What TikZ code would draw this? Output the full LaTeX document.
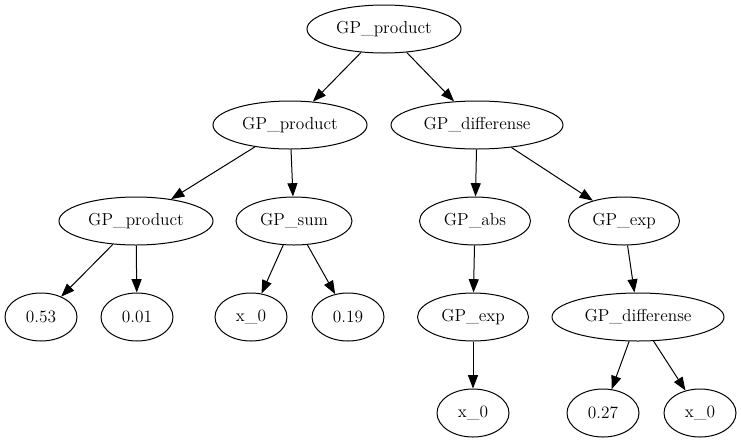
\documentclass[tikz,border=0pt]{standalone}
\usetikzlibrary{shapes.geometric,arrows.meta}
\begin{document}
\begin{tikzpicture}[x=0.75pt, y=-0.75pt]
 \tikzstyle{noeud}=[ellipse, draw, line width=0.75pt, inner sep=0pt, minimum height=36pt, minimum width=54pt, font=\fontsize{13}{15}\selectfont]
 \tikzstyle{fleche}=[-{Triangle[length=10pt, width=7.5pt]}, line width=0.75pt]
 \useasboundingbox (0,0) rectangle (741,443);
 %
 \node[noeud, minimum width=115.5pt] (R) at (384, 29) {GP\_product};
 %
 \node[noeud, minimum width=115.5pt] (G) at (290, 125) {GP\_product};
 \node[noeud, minimum width=129pt] (D) at (477, 125) {GP\_differense};
 %
 \node[noeud, minimum width=115.5pt] (GG) at (136, 221) {GP\_product};
 \node[noeud, minimum width=87pt] (GS) at (294, 221) {GP\_sum};
 \node[noeud, minimum width=83.25pt] (DA) at (475, 221) {GP\_abs};
 \node[noeud, minimum width=83.25pt] (DE) at (624, 221) {GP\_exp};
 %
 \node[noeud] (GG1) at (41, 317) {0.53};
 \node[noeud] (GG2) at (137, 317) {0.01};
 \node[noeud] (GS1) at (251, 317) {x\_0};
 \node[noeud] (GS2) at (348, 317) {0.19};
 \node[noeud, minimum width=83.25pt] (DAE) at (473, 317) {GP\_exp};
 \node[noeud, minimum width=129pt] (DED) at (638, 317) {GP\_differense};
 %
 \node[noeud] (DAE1) at (473, 413) {x\_0};
 \node[noeud] (DED1) at (603, 413) {0.27};
 \node[noeud] (DED2) at (700, 413) {x\_0};
 %%
 \draw[fleche] (R)--(G);
 \draw[fleche] (R)--(D);
 \draw[fleche] (G)--(GG);
 \draw[fleche] (G)--(GS);
 \draw[fleche] (D)--(DA);
 \draw[fleche] (D)--(DE);
 \draw[fleche] (GG)--(GG1);
 \draw[fleche] (GG)--(GG2);
 \draw[fleche] (GS)--(GS1);
 \draw[fleche] (GS)--(GS2);
 \draw[fleche] (DA)--(DAE);
 \draw[fleche] (DE)--(DED);
 \draw[fleche] (DAE)--(DAE1);
 \draw[fleche] (DED)--(DED1);
 \draw[fleche] (DED)--(DED2);
\end{tikzpicture}
\end{document}
